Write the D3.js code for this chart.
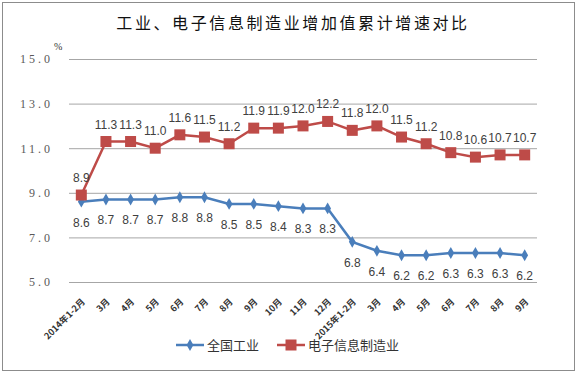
<!DOCTYPE html>
<html>
<head>
<meta charset="utf-8">
<script src="https://cdn.jsdelivr.net/npm/d3@7"></script>
<style>
  body { margin: 0; background: #fff; }
  svg { display: block; }
</style>
</head>
<body>
<div id="chart"></div>
<script>
// chart data
const months = ['2014年1-2月', '3月', '4月', '5月', '6月', '7月', '8月', '9月', '10月', '11月', '12月',
  '2015年1-2月', '3月', '4月', '5月', '6月', '7月', '8月', '9月'];
const industry = [8.6, 8.7, 8.7, 8.7, 8.8, 8.8, 8.5, 8.5, 8.4, 8.3, 8.3, 6.8, 6.4, 6.2, 6.2, 6.3, 6.3, 6.3, 6.2];
const electronics = [8.9, 11.3, 11.3, 11.0, 11.6, 11.5, 11.2, 11.9, 11.9, 12.0, 12.2, 11.8, 12.0, 11.5, 11.2, 10.8, 10.6, 10.7, 10.7];
const yTicks = [5.0, 7.0, 9.0, 11.0, 13.0, 15.0];
const seriesNames = ['全国工业', '电子信息制造业'];

const width = 576;
const height = 372;
const blue = '#4a7ebb';
const red = '#be4b48';
const labelColor = '#404040';

const svg = d3.select('#chart').append('svg')
  .attr('width', width)
  .attr('height', height);

// outer frame
svg.append('rect')
  .attr('x', 2.5).attr('y', 2.5)
  .attr('width', 572).attr('height', 368)
  .attr('fill', '#fff')
  .attr('stroke', '#8c8c8c')
  .attr('stroke-width', 1);

svg.append('text')
  .attr('x', 293).attr('y', 29)
  .attr('text-anchor', 'middle')
  .style('font-family', '"Noto Sans CJK SC", sans-serif')
  .style('font-size', '16px')
  .style('letter-spacing', '2.6px')
  .attr('fill', '#111')
  .text('工业、电子信息制造业增加值累计增速对比');

const x = d3.scaleBand()
  .domain(d3.range(months.length))
  .range([69, 537]);

const y = d3.scaleLinear()
  .domain([5, 15])
  .range([282, 59]);

const cx = i => x(i) + x.bandwidth() / 2;

// gridlines
const grid = svg.append('g')
  .attr('transform', 'translate(69,0)')
  .call(d3.axisRight(y).tickValues(yTicks).tickSize(537 - 69).tickFormat(''));
grid.select('.domain').remove();
grid.selectAll('line').attr('stroke', '#a6a6a6').attr('stroke-width', 1);

// y axis labels
const yAxis = svg.append('g')
  .attr('transform', 'translate(56,0)')
  .call(d3.axisLeft(y).tickValues(yTicks).tickSize(0).tickFormat(d3.format('.1f')));
yAxis.select('.domain').remove();
yAxis.selectAll('text')
  .attr('fill', '#595959')
  .style('font-family', '"Liberation Serif", serif')
  .style('font-size', '12px')
  .style('letter-spacing', '3px');

svg.append('text')
  .attr('x', 54).attr('y', 50)
  .style('font-family', '"Liberation Serif", serif')
  .style('font-size', '10px')
  .attr('fill', '#333')
  .text('%');

// x axis labels
const xAxis = svg.append('g')
  .attr('transform', 'translate(0,282)')
  .call(d3.axisBottom(x).tickSize(0).tickFormat(i => months[i]));
xAxis.select('.domain').remove();
xAxis.selectAll('text')
  .attr('text-anchor', 'end')
  .attr('transform', 'translate(0,16) rotate(-45)')
  .attr('dy', '0.35em')
  .attr('fill', '#333')
  .style('font-family', '"Noto Sans CJK SC", sans-serif')
  .style('font-weight', 'bold')
  .style('font-size', '9px');

const line = d3.line()
  .x((d, i) => cx(i))
  .y(d => y(d));

// industry series
svg.append('path')
  .datum(industry)
  .attr('fill', 'none')
  .attr('stroke', blue)
  .attr('stroke-width', 2.5)
  .attr('d', line);

svg.append('g').selectAll('path')
  .data(industry)
  .join('path')
  .attr('d', d3.symbol(d3.symbolDiamond, 40))
  .attr('transform', (d, i) => `translate(${cx(i)},${y(d)})`)
  .attr('fill', blue);

// electronics series
svg.append('path')
  .datum(electronics)
  .attr('fill', 'none')
  .attr('stroke', red)
  .attr('stroke-width', 2.5)
  .attr('d', line);

svg.append('g').selectAll('rect')
  .data(electronics)
  .join('rect')
  .attr('x', (d, i) => cx(i) - 5.5)
  .attr('y', d => y(d) - 5.5)
  .attr('width', 11).attr('height', 11)
  .attr('fill', red);

// data labels
const labelFont = '"Liberation Sans", "DejaVu Sans", sans-serif';
svg.append('g').selectAll('text')
  .data(industry)
  .join('text')
  .attr('x', (d, i) => cx(i))
  .attr('y', d => y(d) + 25)
  .attr('text-anchor', 'middle')
  .attr('fill', labelColor)
  .style('font-family', labelFont)
  .style('font-size', '12px')
  .text(d => d.toFixed(1));

svg.append('g').selectAll('text')
  .data(electronics)
  .join('text')
  .attr('x', (d, i) => cx(i))
  .attr('y', d => y(d) - 13)
  .attr('text-anchor', 'middle')
  .attr('fill', labelColor)
  .style('font-family', labelFont)
  .style('font-size', '12px')
  .text(d => d.toFixed(1));

// legend
const legend = svg.append('g').attr('transform', 'translate(176,345)');
const legendItems = [
  { name: seriesNames[0], color: blue, x: 0, shape: 'diamond' },
  { name: seriesNames[1], color: red, x: 101, shape: 'square' }
];
legendItems.forEach(item => {
  const g = legend.append('g').attr('transform', `translate(${item.x},0)`);
  g.append('line')
    .attr('x1', 0).attr('x2', 28)
    .attr('stroke', item.color).attr('stroke-width', 2.5);
  if (item.shape === 'diamond') {
    g.append('path')
      .attr('d', d3.symbol(d3.symbolDiamond, 40))
      .attr('transform', 'translate(14,0)')
      .attr('fill', item.color);
  } else {
    g.append('rect')
      .attr('x', 8.5).attr('y', -5.5).attr('width', 11).attr('height', 11)
      .attr('fill', item.color);
  }
  g.append('text')
    .attr('x', 31).attr('y', 0)
    .attr('dy', '0.35em')
    .attr('fill', '#333')
    .style('font-family', '"Noto Sans CJK SC", sans-serif')
    .style('font-size', '13px')
    .text(item.name);
});
</script>
</body>
</html>
